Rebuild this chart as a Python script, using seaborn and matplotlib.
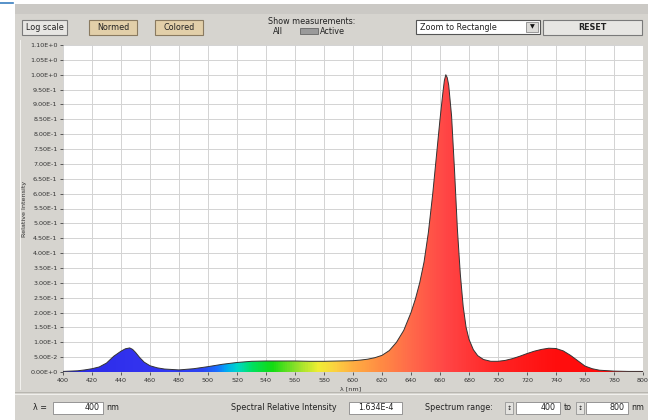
import numpy as np
import matplotlib
matplotlib.use("Agg")
import matplotlib.pyplot as plt
from matplotlib.patches import Rectangle, Polygon
from matplotlib.colors import LinearSegmentedColormap
import seaborn as sns
import pandas as pd

# ---- data ----
wavelength = [400, 405, 410, 415, 420, 425, 430, 435, 440, 443, 446, 448, 450, 453,
              456, 460, 465, 470, 480, 490, 500, 510, 520, 530, 540, 550, 560, 570,
              580, 590, 600, 605, 610, 615, 620, 625, 630, 635, 640, 643, 646, 649,
              652, 655, 658, 660, 662, 663, 664, 665, 666, 668, 670, 672, 674, 676,
              678, 680, 683, 686, 690, 695, 700, 705, 710, 715, 720, 725, 730, 735,
              740, 745, 750, 755, 760, 765, 770, 780, 790, 800]
intensity = [0.002, 0.003, 0.004, 0.007, 0.011, 0.017, 0.030, 0.053, 0.070, 0.078,
             0.081, 0.076, 0.066, 0.048, 0.033, 0.021, 0.014, 0.010, 0.007, 0.011,
             0.018, 0.026, 0.032, 0.036, 0.037, 0.037, 0.037, 0.036, 0.036, 0.037,
             0.038, 0.040, 0.043, 0.048, 0.056, 0.072, 0.100, 0.140, 0.200, 0.245,
             0.300, 0.370, 0.470, 0.600, 0.750, 0.850, 0.940, 0.980, 1.000, 0.990,
             0.965, 0.860, 0.680, 0.480, 0.330, 0.220, 0.150, 0.110, 0.075, 0.055,
             0.042, 0.036, 0.036, 0.039, 0.045, 0.053, 0.062, 0.070, 0.076, 0.080,
             0.079, 0.071, 0.056, 0.038, 0.020, 0.011, 0.006, 0.003, 0.002, 0.002]
x_ticks = list(range(400, 801, 20))
y_ticks = [round(0.05 * i, 2) for i in range(23)]
y_tick_labels = ["0.00E+0", "5.00E-2", "1.00E-1", "1.50E-1", "2.00E-1", "2.50E-1",
                 "3.00E-1", "3.50E-1", "4.00E-1", "4.50E-1", "5.00E-1", "5.50E-1",
                 "6.00E-1", "6.50E-1", "7.00E-1", "7.50E-1", "8.00E-1", "8.50E-1",
                 "9.00E-1", "9.50E-1", "1.00E+0", "1.05E+0", "1.10E+0"]

df = pd.DataFrame({"wavelength": wavelength, "intensity": intensity})

W, H = 648, 420
BG = "#d6d4cf"
fig = plt.figure(figsize=(W / 100, H / 100), dpi=100, facecolor=BG)


def px_rect(x, y, w, h, **kw):
    r = Rectangle((x / W, 1 - (y + h) / H), w / W, h / H, transform=fig.transFigure, **kw)
    fig.add_artist(r)
    return r


def px_text(x, y, s, **kw):
    return fig.text(x / W, 1 - y / H, s, **kw)


# window chrome
px_rect(0, 0, 15, H, facecolor="white", edgecolor="none")
px_rect(0, 0, W, 4, facecolor="white", edgecolor="none")
fig.add_artist(plt.Line2D([0, 13 / W], [1 - 3 / H, 1 - 3 / H], transform=fig.transFigure,
                          color="#3a7fc0", lw=1.2))
px_rect(15, 4, W - 15, 10, facecolor="#cbc9c5", edgecolor="none")
px_rect(15, 392, W - 15, 1, facecolor="#b8b6b0", edgecolor="none")
px_rect(15, 394, W - 15, 1, facecolor="#f0efec", edgecolor="none")
px_rect(20, 40, 1, 350, facecolor="#f2f1ee", edgecolor="none")

# toolbar buttons
BTN_FONT = 5.8
px_rect(22, 20, 45, 15, facecolor="#e7e6e3", edgecolor="#7a7a7a", lw=0.8)
px_text(44.5, 27.5, "Log scale", ha="center", va="center", fontsize=BTN_FONT, color="#222")
px_rect(89, 20, 48, 15, facecolor="#e2cfa9", edgecolor="#8a7a60", lw=0.8)
px_text(113, 27.5, "Normed", ha="center", va="center", fontsize=BTN_FONT, color="#222")
px_rect(155, 20, 48, 15, facecolor="#e2cfa9", edgecolor="#8a7a60", lw=0.8)
px_text(179, 27.5, "Colored", ha="center", va="center", fontsize=BTN_FONT, color="#222")
px_text(312, 21, "Show measurements:", ha="center", va="center", fontsize=BTN_FONT, color="#222")
px_text(278, 32, "All", ha="center", va="center", fontsize=BTN_FONT, color="#222")
px_rect(300, 28, 18, 6, facecolor="#9a9a9a", edgecolor="#666", lw=0.6)
px_text(320, 32, "Active", ha="left", va="center", fontsize=BTN_FONT, color="#222")
px_rect(416, 20, 124, 14, facecolor="white", edgecolor="#555", lw=0.8)
px_text(420, 27, "Zoom to Rectangle", ha="left", va="center", fontsize=BTN_FONT, color="#222")
px_rect(526, 22, 12, 10, facecolor="#dcdbd8", edgecolor="#777", lw=0.5)
px_text(532, 27, "\u25BC", ha="center", va="center", fontsize=4.5, color="#111")
px_rect(543, 20, 99, 15, facecolor="#e7e6e3", edgecolor="#7a7a7a", lw=0.8)
px_text(592, 27.5, "RESET", ha="center", va="center", fontsize=BTN_FONT, color="#222",
        fontweight="bold")

# bottom bar
px_text(33, 408, "\u03bb =", ha="left", va="center", fontsize=BTN_FONT, color="#222")
px_rect(53, 402, 50, 12, facecolor="white", edgecolor="#888", lw=0.6)
px_text(100, 408, "400", ha="right", va="center", fontsize=BTN_FONT, color="#222")
px_text(106, 408, "nm", ha="left", va="center", fontsize=BTN_FONT, color="#222")
px_text(284, 408, "Spectral Relative Intensity", ha="center", va="center",
        fontsize=BTN_FONT, color="#222")
px_rect(349, 402, 53, 12, facecolor="white", edgecolor="#888", lw=0.6)
px_text(376, 408, "1.634E-4", ha="center", va="center", fontsize=BTN_FONT, color="#222")
px_text(425, 408, "Spectrum range:", ha="left", va="center", fontsize=BTN_FONT, color="#222")
px_rect(505, 402, 8, 12, facecolor="#e4e3e0", edgecolor="#888", lw=0.5)
px_text(509, 408, "\u2195", ha="center", va="center", fontsize=4.5, color="#222")
px_rect(516, 402, 44, 12, facecolor="white", edgecolor="#888", lw=0.6)
px_text(556, 408, "400", ha="right", va="center", fontsize=BTN_FONT, color="#222")
px_text(564, 408, "to", ha="left", va="center", fontsize=BTN_FONT, color="#222")
px_rect(576, 402, 8, 12, facecolor="#e4e3e0", edgecolor="#888", lw=0.5)
px_text(580, 408, "\u2195", ha="center", va="center", fontsize=4.5, color="#222")
px_rect(586, 402, 42, 12, facecolor="white", edgecolor="#888", lw=0.6)
px_text(625, 408, "800", ha="right", va="center", fontsize=BTN_FONT, color="#222")
px_text(631, 408, "nm", ha="left", va="center", fontsize=BTN_FONT, color="#222")

# ---- plot area ----
ax = fig.add_axes([63 / W, 1 - 372 / H, 580 / W, 327 / H])
ax.set_facecolor("white")

# spectrum fill with wavelength gradient
cmap = LinearSegmentedColormap.from_list("spec", [
    (0.00, "#2a2ae8"), (0.15, "#3434f0"), (0.24, "#2c44f2"), (0.265, "#1a70ff"),
    (0.28, "#00a8f4"), (0.30, "#00d8c8"), (0.325, "#00e060"), (0.36, "#12dc12"),
    (0.40, "#8ae02a"), (0.44, "#f0ee34"), (0.47, "#fcd040"), (0.50, "#ffae42"),
    (0.55, "#ff8a44"), (0.60, "#ff6a4a"), (0.66, "#ff4646"), (0.75, "#ff2424"),
    (0.85, "#ff0e0e"), (1.00, "#ff0808")])
grad = np.linspace(0, 1, 800).reshape(1, -1)
img = ax.imshow(grad, extent=[400, 800, 0, 1.1], aspect="auto", cmap=cmap,
                origin="lower", zorder=2, interpolation="bilinear")
poly_xy = [(wavelength[0], 0)] + list(zip(wavelength, intensity)) + [(wavelength[-1], 0)]
poly = Polygon(poly_xy, closed=True, facecolor="none", edgecolor="none")
ax.add_patch(poly)
img.set_clip_path(poly)
sns.lineplot(data=df, x="wavelength", y="intensity", ax=ax, color="#333333", lw=0.7,
             zorder=3)

ax.set_xlim(400, 800)
ax.set_ylim(0, 1.1)
ax.set_xticks(x_ticks)
ax.set_xticklabels([str(t) for t in x_ticks], fontsize=4.6, color="#333")
ax.set_yticks(y_ticks)
ax.set_yticklabels(y_tick_labels, fontsize=4.6, color="#333")
ax.grid(True, color="#d3d3d3", lw=0.7)
ax.set_axisbelow(True)
for s in ax.spines.values():
    s.set_visible(False)
ax.tick_params(axis="both", length=2.5, width=0.6, color="#444", pad=1.5)
ax.set_xlabel("\u03bb [nm]", fontsize=4.6, color="#333")
ax.set_ylabel("Relative Intensity", fontsize=4.6, color="#333", labelpad=2)
ax.xaxis.set_label_coords(0.495, -0.045)

fig.savefig("out.png", dpi=100, facecolor=BG)
